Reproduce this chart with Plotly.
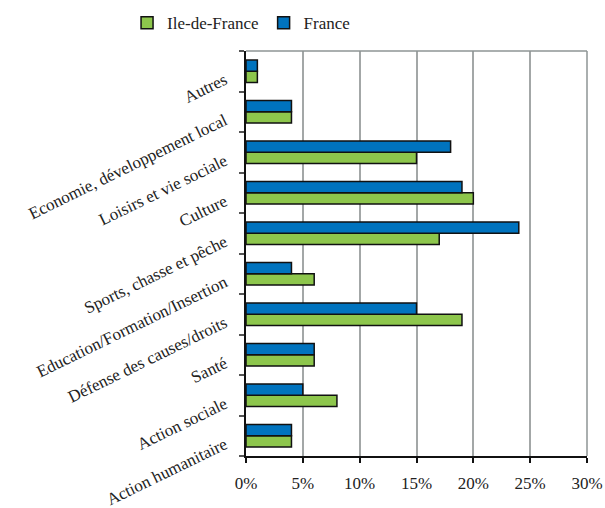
import plotly.graph_objects as go

categories = ["Action humanitaire", "Action sociale", "Santé", "Défense des causes/droits",
              "Education/Formation/Insertion", "Sports, chasse et pêche", "Culture",
              "Loisirs et vie sociale", "Economie, développement local", "Autres"]
idf = [4, 8, 6, 19, 6, 17, 20, 15, 4, 1]
france = [4, 5, 6, 15, 4, 24, 19, 18, 4, 1]
x_ticks = [0, 5, 10, 15, 20, 25, 30]
x_tick_labels = ["0%", "5%", "10%", "15%", "20%", "25%", "30%"]

FONT = "'Liberation Serif', serif"

fig = go.Figure()
fig.add_trace(go.Bar(y=categories, x=idf, orientation="h", name="Ile-de-France",
                     marker=dict(color="#8DC64C", line=dict(color="#111111", width=1.5))))
fig.add_trace(go.Bar(y=categories, x=france, orientation="h", name="France",
                     marker=dict(color="#0073BE", line=dict(color="#111111", width=1.5))))

fig.update_layout(
    width=605, height=508,
    margin=dict(l=246, r=18, t=51, b=52, autoexpand=False),
    paper_bgcolor="white", plot_bgcolor="white",
    barmode="group", bargap=0.45, bargroupgap=0,
    font=dict(family=FONT, size=17, color="#222222"),
    legend=dict(orientation="h", xref="container", yref="container",
                x=0.21, y=0.99, xanchor="left", yanchor="top",
                traceorder="normal", font=dict(family=FONT, size=17), itemwidth=30,
                bgcolor="rgba(0,0,0,0)"),
    showlegend=True,
)
fig.update_xaxes(range=[0, 30], tickvals=x_ticks, ticktext=x_tick_labels,
                 tickfont=dict(family=FONT, size=17),
                 showgrid=True, gridcolor="#A3A7A7", gridwidth=1.5,
                 showline=True, linecolor="#111111", linewidth=1.5,
                 ticks="outside", ticklen=5, tickcolor="#111111", tickwidth=1.5,
                 ticklabelstandoff=6, automargin=False,
                 zeroline=False, fixedrange=True)
fig.update_yaxes(categoryorder="array", categoryarray=categories,
                 tickfont=dict(family=FONT, size=17),
                 showgrid=False, showline=True, linecolor="#111111", linewidth=1.5,
                 ticks="outside", ticklen=5, tickcolor="#555555", tickwidth=1.5,
                 tickson="boundaries", tickangle=-26, ticklabelshift=7,
                 ticklabelstandoff=16, fixedrange=True,
                 automargin=False)
fig.add_shape(type="line", xref="paper", yref="paper", x0=0, x1=1, y0=1, y1=1,
              line=dict(color="#8E9494", width=1.5))
fig.add_shape(type="line", xref="paper", yref="paper", x0=1, x1=1, y0=0, y1=1,
              line=dict(color="#8E9494", width=1.5))

fig.write_html("out.html", config={"displayModeBar": False},
               post_script="document.body.style.margin='0';")
